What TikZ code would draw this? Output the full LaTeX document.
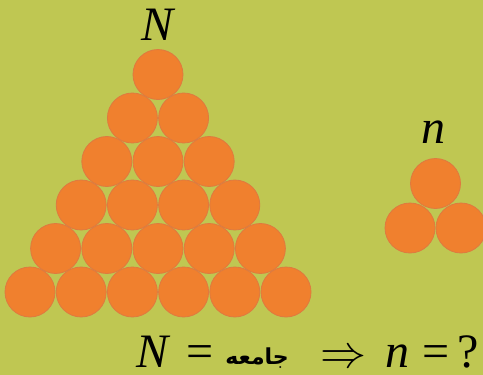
\documentclass[tikz,border=0pt]{standalone}
\usepackage{fontspec}
\setmainfont{Liberation Serif}
\newfontfamily\arabicfont[Script=Arabic]{DejaVu Sans}
\TeXXeTstate=1
\usetikzlibrary{positioning}
\definecolor{olivebg}{RGB}{191,199,82}
\definecolor{ballfill}{RGB}{240,128,46}
\definecolor{balledge}{RGB}{222,122,64}
\tikzset{
    ball/.style={
        circle,                 % cada bola es un circulo
        fill=ballfill,          % naranja
        draw=balledge,          % borde un poco mas apagado
        line width=0.8pt,
        minimum size=50pt,      % diametro de la bola
        inner sep=0pt
    },
    biglabel/.style={
        font=\fontsize{48}{48}\selectfont\itshape, % letra grande en cursiva
        inner sep=0pt,
        anchor=base
    },
    formula/.style={
        font=\fontsize{48}{48}\selectfont, % misma talla, recta
        inner sep=0pt,
        text depth=2pt,
        anchor=base west
    }
}

\begin{document}
\begin{tikzpicture}[x=1pt,y=-1pt]
  \fill[olivebg] (0,0) rectangle (483,375);
  \useasboundingbox (0,0) rectangle (483,375);

  % triangulo grande (poblacion)
  \foreach \r in {0,...,5}{
    \foreach \c in {0,...,\r}{
      \node[ball] (big-\r-\c) at ({158+(\c-\r/2)*51.2},{74.5+\r*43.5}) {};
    }
  }
  % triangulo pequeno (muestra)
  \node[ball] (small-top) at (435.5,183.5) {};
  \node[ball] (small-left) at (410,228) {};
  \node[ball] (small-right) at (461,228) {};

  \node[biglabel] (label-N) at (158,40) {N};
  \node[biglabel] (label-n) at (433,143) {n};

  \node[formula] (formula) at (136,367) {{\itshape N}\hspace{18pt}=\hspace{12pt}\raisebox{3pt}{\arabicfont\bfseries\fontsize{22}{22}\selectfont\beginR جامعه\endR}\hspace{32pt}\resizebox{46pt}{!}{$\Rightarrow$}\hspace{19pt}{\itshape n}\hspace{13pt}=\hspace{8pt}?};
\end{tikzpicture}
\end{document}
